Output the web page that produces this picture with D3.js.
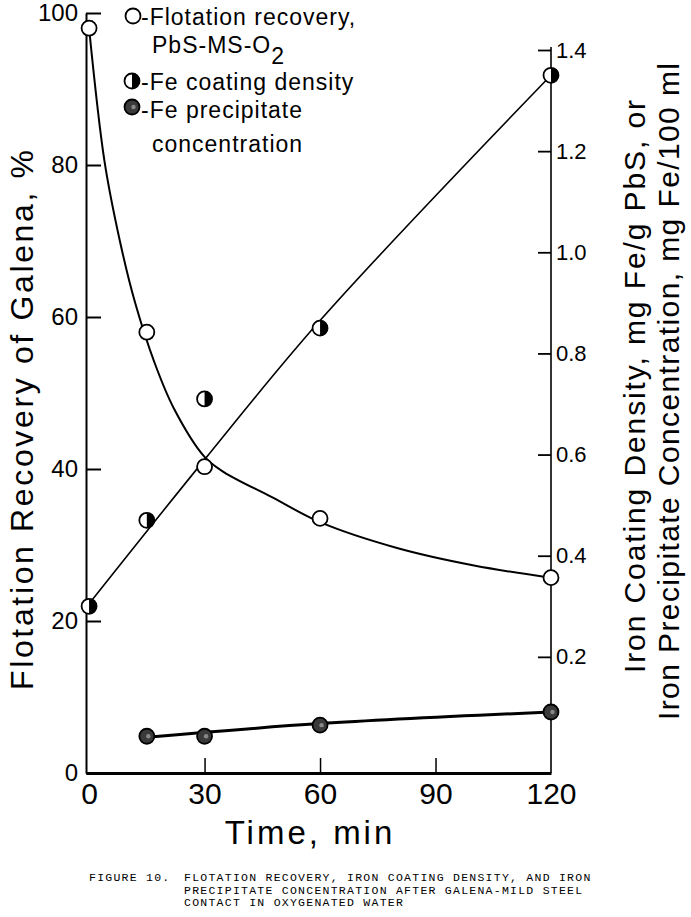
<!DOCTYPE html>
<html><head><meta charset="utf-8">
<script src="https://cdn.jsdelivr.net/npm/d3@7"></script>
<style>body{margin:0;background:#fff} svg{display:block}</style>
</head><body>
<svg id="c" width="691" height="917"></svg>
<script>
// ---- data ----
const timeTicks = [0, 30, 60, 90, 120];
const recoveryTicks = [0, 20, 40, 60, 80, 100];
const ironTicks = [0.2, 0.4, 0.6, 0.8, 1.0, 1.2, 1.4];

const recTime = [0, 15, 30, 60, 120];
const recValue = [98, 58, 40.3, 33.5, 25.7];
// hand-drawn fitted curve through recovery data
const recFitTime = [0, 4, 8, 12, 17, 22, 30, 35, 47.5, 60, 80, 100, 120];
const recFitValue = [98, 80.5, 70, 61.8, 54, 48, 41.6, 39.6, 36.3, 33, 29.6, 27.3, 25.7];

const coatTime = [0, 15, 30, 60, 120];
const coatValue = [0.30, 0.47, 0.71, 0.85, 1.35];
const coatFitTime = [0, 30, 60, 120];
const coatFitValue = [0.305, 0.59, 0.865, 1.35];

const precTime = [15, 30, 60, 120];
const precValue = [0.043, 0.043, 0.065, 0.091];
const precFitTime = [15, 60, 120];
const precFitValue = [0.041, 0.068, 0.091];

const legendLabels = ["-Flotation  recovery,", "-Fe  coating  density", "-Fe  precipitate", "concentration"];
const captionLines = ["FLOTATION RECOVERY, IRON COATING DENSITY, AND IRON",
  "PRECIPITATE CONCENTRATION AFTER GALENA-MILD STEEL",
  "CONTACT IN OXYGENATED WATER"];

// ---- drawing ----
const svg = d3.select("#c");
const sans = "'Liberation Sans', Arial, sans-serif";
const x = d3.scaleLinear().domain([-0.8, 120]).range([86, 551]);
const yL = d3.scaleLinear().domain([0, 100]).range([773, 13]);
const yR = d3.scaleLinear().domain([0, 1.4]).range([758, 50]);

// left axis
const gL = svg.append("g").attr("transform", "translate(86,0)")
  .call(d3.axisLeft(yL).tickValues(recoveryTicks).tickSize(-15).tickSizeOuter(0).tickPadding(8));
gL.select(".domain").attr("stroke-width", 2);
gL.selectAll(".tick line").attr("stroke-width", 2);
gL.selectAll(".tick text").attr("font-family", sans).attr("font-size", 24).attr("fill", "#000");

// bottom axis
const gB = svg.append("g").attr("transform", "translate(0,773)")
  .call(d3.axisBottom(x).tickValues(timeTicks).tickSize(-15).tickSizeOuter(0).tickPadding(10));
gB.select(".domain").attr("stroke-width", 3);
gB.selectAll(".tick line").attr("stroke-width", 1.5).filter(d => d === 0 || d === 120).remove();
gB.selectAll(".tick text").attr("font-family", sans).attr("font-size", 30).attr("fill", "#000");

// right axis
svg.append("line").attr("x1", 551).attr("x2", 551).attr("y1", yL(0)).attr("y2", yR(1.4) - 3)
  .attr("stroke", "#000").attr("stroke-width", 1.6);
const gR = svg.append("g").attr("transform", "translate(551,0)")
  .call(d3.axisRight(yR).tickValues(ironTicks).tickSize(-13).tickSizeOuter(0).tickPadding(5).tickFormat(d3.format(".1f")));
gR.select(".domain").remove();
gR.selectAll(".tick line").attr("stroke-width", 1.8);
gR.selectAll(".tick text").attr("font-family", sans).attr("font-size", 22).attr("fill", "#000");

// axis titles
svg.append("text").attr("transform", "translate(33,690) rotate(-90)")
  .attr("font-family", sans).attr("font-size", 32).attr("textLength", 540).attr("lengthAdjust", "spacing")
  .text("Flotation Recovery of Galena, %");
svg.append("text").attr("transform", "translate(645,673) rotate(-90)")
  .attr("font-family", sans).attr("font-size", 30).attr("textLength", 573).attr("lengthAdjust", "spacing")
  .text("Iron Coating Density, mg Fe/g PbS, or");
svg.append("text").attr("transform", "translate(679,720) rotate(-90)")
  .attr("font-family", sans).attr("font-size", 30).attr("textLength", 657).attr("lengthAdjust", "spacing")
  .text("Iron Precipitate Concentration, mg Fe/100 ml");
svg.append("text").attr("x", 310).attr("y", 844).attr("text-anchor", "middle")
  .attr("font-family", sans).attr("font-size", 33).attr("letter-spacing", 3)
  .text("Time, min");

// lines
const curve = d3.curveCatmullRom.alpha(0.5);
const lineL = d3.line().x(d => x(d[0])).y(d => yL(d[1])).curve(curve);
const lineR = d3.line().x(d => x(d[0])).y(d => yR(d[1])).curve(curve);
svg.append("path").attr("d", lineL(d3.zip(recFitTime, recFitValue)))
  .attr("fill", "none").attr("stroke", "#000").attr("stroke-width", 2);
svg.append("path").attr("d", lineR(d3.zip(coatFitTime, coatFitValue)))
  .attr("fill", "none").attr("stroke", "#000").attr("stroke-width", 1.6);
svg.append("path").attr("d", lineR(d3.zip(precFitTime, precFitValue)))
  .attr("fill", "none").attr("stroke", "#000").attr("stroke-width", 3);

// markers
const R = 7.5;
function openMark(g, cx, cy) {
  g.append("circle").attr("cx", cx).attr("cy", cy).attr("r", R)
    .attr("fill", "#fff").attr("stroke", "#000").attr("stroke-width", 1.8);
}
function halfMark(g, cx, cy) {
  g.append("circle").attr("cx", cx).attr("cy", cy).attr("r", R)
    .attr("fill", "#fff").attr("stroke", "#000").attr("stroke-width", 1.8);
  g.append("path").attr("d", `M${cx},${cy - R}A${R},${R} 0 0 1 ${cx},${cy + R}Z`).attr("fill", "#000");
}
function fullMark(g, cx, cy) {
  g.append("circle").attr("cx", cx).attr("cy", cy).attr("r", R)
    .attr("fill", "#3a3a3a").attr("stroke", "#000").attr("stroke-width", 1.8);
  g.append("circle").attr("cx", cx + 1.5).attr("cy", cy).attr("r", 2.2).attr("fill", "#888");
}
const gm = svg.append("g");
recTime.forEach((t, i) => openMark(gm, x(t), yL(recValue[i])));
coatTime.forEach((t, i) => halfMark(gm, x(t), yR(coatValue[i])));
precTime.forEach((t, i) => fullMark(gm, x(t), yR(precValue[i])));

// legend
const lg = svg.append("g").attr("font-family", sans).attr("font-size", 23).attr("letter-spacing", 1);
openMark(lg, 133, 16);
lg.append("text").attr("x", 141).attr("y", 25).text(legendLabels[0]);
const t2 = lg.append("text").attr("x", 152).attr("y", 53);
t2.append("tspan").text("PbS-MS-O");
t2.append("tspan").attr("dy", 11).text("2");
halfMark(lg, 132, 81);
lg.append("text").attr("x", 141).attr("y", 90).text(legendLabels[1]);
fullMark(lg, 132, 107);
lg.append("text").attr("x", 141).attr("y", 118).text(legendLabels[2]);
lg.append("text").attr("x", 152).attr("y", 152).text(legendLabels[3]);

// caption
const mono = "'Liberation Mono', 'DejaVu Sans Mono', monospace";
const cg = svg.append("g").attr("font-family", mono).attr("font-size", 11.5).attr("letter-spacing", 1.25);
cg.append("text").attr("x", 89).attr("y", 881).text("FIGURE 10.");
captionLines.forEach((s, i) => cg.append("text").attr("x", 184).attr("y", 881 + i * 12.5).text(s));
</script>
</body></html>
